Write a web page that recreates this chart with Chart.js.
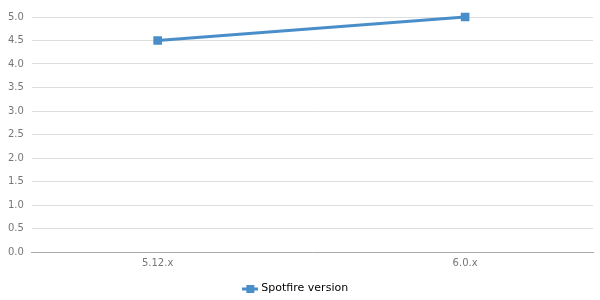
<!DOCTYPE html>
<html>
<head>
<meta charset="utf-8">
<script src="https://cdn.jsdelivr.net/npm/chart.js@4"></script>
<style>
  html, body { margin: 0; padding: 0; background: #fff; }
  #wrap { width: 600px; height: 300px; }
</style>
</head>
<body>
<div id="wrap"><canvas id="myChart"></canvas></div>
<script>
var categories = ['5.12.x', '6.0.x'];
var seriesName = 'Spotfire version';
var seriesValues = [4.5, 5.0];
var yTicks = [0, 0.5, 1, 1.5, 2, 2.5, 3, 3.5, 4, 4.5, 5];

var blue = 'rgb(74, 142, 201)';

// legend symbol: short line with a square on it
var legendIcon = document.createElement('canvas');
legendIcon.width = 16;
legendIcon.height = 8;
var ic = legendIcon.getContext('2d');
ic.fillStyle = blue;
ic.fillRect(0, 3, 16, 3);
ic.fillRect(4, 0, 8, 8);

var ctx = document.getElementById('myChart').getContext('2d');
var myChart = new Chart(ctx, {
  type: 'line',
  data: {
    datasets: [{
      label: seriesName,
      data: seriesValues.map(function (v, i) { return { x: i, y: v }; }),
      borderColor: blue,
      backgroundColor: blue,
      borderWidth: 3,
      pointStyle: 'rect',
      pointRadius: 4,
      pointHoverRadius: 4,
      tension: 0,
      clip: false
    }]
  },
  options: {
    responsive: true,
    maintainAspectRatio: false,
    animation: false,
    layout: { padding: { top: 17, right: 7, left: 0, bottom: -4 } },
    scales: {
      x: {
        type: 'linear',
        min: -0.409,
        max: 1.416,
        afterBuildTicks: function (axis) {
          axis.ticks = categories.map(function (c, i) { return { value: i }; });
        },
        afterFit: function (axis) { axis.height += 4; },
        ticks: {
          color: '#777',
          font: { family: 'DejaVu Sans', size: 10 },
          padding: 5,
          callback: function (v) { return categories[v]; }
        },
        grid: { display: false, drawTicks: false },
        border: { color: '#aaa', width: 1 }
      },
      y: {
        min: 0,
        max: 5,
        afterBuildTicks: function (axis) {
          axis.ticks = yTicks.map(function (v) { return { value: v }; });
        },
        ticks: {
          color: '#777',
          font: { family: 'DejaVu Sans', size: 10 },
          padding: 8,
          callback: function (v) { return v.toFixed(1); }
        },
        grid: { color: '#ddd', drawTicks: false },
        border: { display: false }
      }
    },
    plugins: {
      legend: {
        position: 'bottom',
        labels: {
          color: '#000',
          font: { family: 'DejaVu Sans', size: 11 },
          usePointStyle: true,
          padding: 5,
          generateLabels: function (chart) {
            return [{
              text: seriesName,
              pointStyle: legendIcon,
              fillStyle: blue,
              strokeStyle: blue,
              lineWidth: 0,
              datasetIndex: 0
            }];
          }
        }
      },
      tooltip: { enabled: false }
    }
  }
});
</script>
</body>
</html>
